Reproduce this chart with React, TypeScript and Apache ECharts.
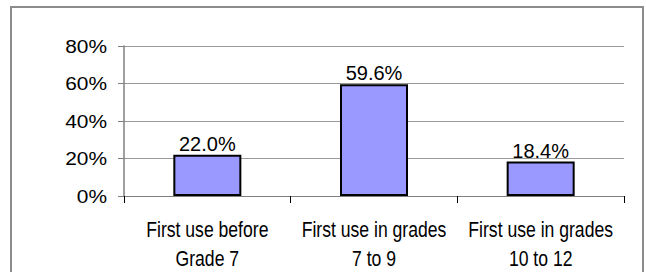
import React, { useEffect, useRef } from "react";
import * as echarts from "echarts";

const categories = [
  "First use before\nGrade 7",
  "First use in grades\n7 to 9",
  "First use in grades\n10 to 12",
];
const values = [22.0, 59.6, 18.4];
const yTicks = [0, 20, 40, 60, 80];
const yTickLabels = ["0%", "20%", "40%", "60%", "80%"];

export default function App() {
  const ref = useRef<HTMLDivElement>(null);
  useEffect(() => {
    document.body.style.margin = "0";
    const chart = echarts.init(ref.current!, null, { renderer: "svg" });
    const border = {
      type: "rect",
      shape: { x: 11, y: 7, width: 632, height: 300 },
      style: { fill: "none", stroke: "#8c8c8c", lineWidth: 2 },
      silent: true,
    };
    chart.setOption({
      animation: false,
      backgroundColor: "#ffffff",
      graphic: [border],
      grid: { left: 124, right: 22, top: 46, bottom: 76, containLabel: false },
      xAxis: {
        type: "category",
        data: categories,
        axisLine: { lineStyle: { color: "#808080", width: 1 } },
        axisTick: { show: true, length: 7, lineStyle: { color: "#000000" } },
        axisLabel: { show: false },
      },
      yAxis: {
        type: "value",
        min: yTicks[0],
        max: yTicks[yTicks.length - 1],
        interval: 20,
        axisLine: { show: true, lineStyle: { color: "#808080", width: 1.5 } },
        axisTick: { show: true, length: 6, lineStyle: { color: "#808080" } },
        splitLine: { lineStyle: { color: "#999999", width: 1 } },
        axisLabel: { show: false },
      },
      series: [
        {
          type: "bar",
          data: values,
          barWidth: 68,
          itemStyle: { color: "#9999ff", borderColor: "#000000", borderWidth: 2 },
          label: {
            show: true,
            position: "top",
            distance: 1,
            formatter: (p: any) => p.value.toFixed(1) + "%",
            fontFamily: "'Liberation Sans', Arial, sans-serif",
            fontSize: 20,
            color: "#000000",
          },
        },
      ],
    });
    const zeroY = chart.convertToPixel({ yAxisIndex: 0 }, 0) as number;
    const xLabels = categories.map((c, i) => {
      const x = chart.convertToPixel({ xAxisIndex: 0 }, i) as number;
      return {
        type: "text",
        x,
        y: zeroY + 19,
        scaleX: 0.8,
        silent: true,
        style: {
          text: c,
          fontFamily: "'Liberation Sans', Arial, sans-serif",
          fontSize: 22,
          lineHeight: 29,
          fill: "#000000",
          align: "center",
          verticalAlign: "top",
        },
      };
    });
    const yLabels = yTicks.map((v, i) => {
      const y = chart.convertToPixel({ yAxisIndex: 0 }, v) as number;
      return {
        type: "text",
        x: 107,
        y,
        scaleX: 1.1,
        silent: true,
        style: {
          text: yTickLabels[i],
          fontFamily: "'Liberation Sans', Arial, sans-serif",
          fontSize: 19,
          fill: "#000000",
          align: "right",
          verticalAlign: "middle",
        },
      };
    });
    chart.setOption({ graphic: [border, ...xLabels, ...yLabels] }, { replaceMerge: ["graphic"] });
    return () => chart.dispose();
  }, []);
  return <div ref={ref} style={{ width: 646, height: 272 }} />;
}
